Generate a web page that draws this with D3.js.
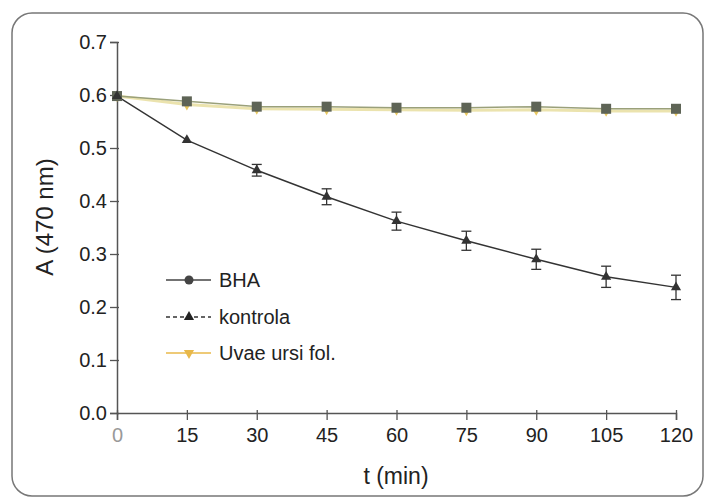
<html>
<head>
  <script src="https://d3js.org/d3.v7.min.js"></script>
</head>
<body style="margin:0;background:#fff;">
<div id="chart"></div>
<script>
// data
var times = [0, 15, 30, 45, 60, 75, 90, 105, 120];
var bha = [0.598, 0.588, 0.578, 0.578, 0.576, 0.576, 0.578, 0.574, 0.574];
var uvae = [0.598, 0.582, 0.574, 0.573, 0.572, 0.571, 0.572, 0.570, 0.570];
var kontrola = [0.598, 0.515, 0.458, 0.408, 0.362, 0.325, 0.290, 0.257, 0.237];
var kontrolaErr = [0, 0.004, 0.011, 0.015, 0.017, 0.018, 0.019, 0.020, 0.023];
var yTicks = [0.0, 0.1, 0.2, 0.3, 0.4, 0.5, 0.6, 0.7];

var W = 709, H = 499;
var svg = d3.select("#chart").append("svg").attr("width", W).attr("height", H);

// rounded frame
svg.append("rect")
  .attr("x", 12).attr("y", 13).attr("width", 691).attr("height", 483)
  .attr("rx", 20).attr("ry", 20)
  .attr("fill", "none").attr("stroke", "#777").attr("stroke-width", 1.5);

var x = d3.scaleLinear().domain([0, 120]).range([117, 676]);
var y = d3.scaleLinear().domain([0, 0.7]).range([413, 42]);

var font = "Liberation Sans, Arial, sans-serif";

// axes
var yAxis = svg.append("g").attr("transform", "translate(117,0)")
  .call(d3.axisLeft(y).tickValues(yTicks).tickFormat(d3.format(".1f")).tickSize(7).tickPadding(3));
var xAxis = svg.append("g").attr("transform", "translate(0,413)")
  .call(d3.axisBottom(x).tickValues(times).tickSize(7).tickPadding(8));
[yAxis, xAxis].forEach(function(a){
  a.select(".domain").attr("stroke", "#555").attr("stroke-width", 1.5);
  a.selectAll(".tick line").attr("stroke", "#555").attr("stroke-width", 1.3);
  a.selectAll("text").attr("font-family", font).attr("font-size", 20).attr("fill", "#222");
});
// y ticks go across the axis a little
yAxis.selectAll(".tick line").attr("x1", 2);
xAxis.selectAll(".tick line").attr("y1", -3);
xAxis.selectAll(".tick text").filter(function(d){ return d === 0; }).attr("fill", "#999");

svg.append("text").attr("x", 396).attr("y", 484).attr("text-anchor", "middle")
  .attr("font-family", font).attr("font-size", 23).attr("fill", "#222").text("t (min)");
svg.append("text").attr("transform", "translate(53,217) rotate(-90)").attr("text-anchor", "middle")
  .attr("font-family", font).attr("font-size", 24).attr("fill", "#222").text("A (470 nm)");

var line = d3.line().x(function(d, i){ return x(times[i]); }).y(function(d){ return y(d); });

// uvae ursi (yellow, behind)
svg.append("path").datum(uvae).attr("d", line)
  .attr("fill", "none").attr("stroke", "#e6dc9a").attr("stroke-width", 3).attr("opacity", 0.8);
svg.append("path").datum(bha).attr("d", line)
  .attr("fill", "none").attr("stroke", "#9aa07a").attr("stroke-width", 1.5);

// kontrola
svg.append("path").datum(kontrola).attr("d", line)
  .attr("fill", "none").attr("stroke", "#333").attr("stroke-width", 1.4);

var eb = svg.append("g").attr("stroke", "#333").attr("stroke-width", 1.3);
kontrola.forEach(function(v, i){
  var e = kontrolaErr[i];
  if (e < 0.006) return;
  var cx = x(times[i]);
  eb.append("line").attr("x1", cx).attr("x2", cx).attr("y1", y(v + e)).attr("y2", y(v - e));
  eb.append("line").attr("x1", cx - 5).attr("x2", cx + 5).attr("y1", y(v + e)).attr("y2", y(v + e));
  eb.append("line").attr("x1", cx - 5).attr("x2", cx + 5).attr("y1", y(v - e)).attr("y2", y(v - e));
});

var tri = d3.symbol().type(d3.symbolTriangle).size(45);
var triDown = d3.symbol().type(d3.symbolTriangle).size(45);

svg.append("g").selectAll("path").data(uvae).enter().append("path")
  .attr("d", triDown)
  .attr("transform", function(d, i){ return "translate(" + x(times[i]) + "," + y(d) + ") rotate(180)"; })
  .attr("fill", "#e8c860");

svg.append("g").selectAll("rect").data(bha).enter().append("rect")
  .attr("x", function(d, i){ return x(times[i]) - 5; })
  .attr("y", function(d){ return y(d) - 5; })
  .attr("width", 10).attr("height", 10)
  .attr("fill", "#5e6456");

svg.append("g").selectAll("path").data(kontrola).enter().append("path")
  .attr("d", tri)
  .attr("transform", function(d, i){ return "translate(" + x(times[i]) + "," + y(d) + ")"; })
  .attr("fill", "#333");

// legend
var leg = [
  {name: "BHA", y: 280, color: "#444", dash: null, mark: "circle"},
  {name: "kontrola", y: 317, color: "#333", dash: "4,3", mark: "tri"},
  {name: "Uvae ursi fol.", y: 353, color: "#e8b84a", dash: null, mark: "triDown"}
];
leg.forEach(function(l){
  svg.append("line").attr("x1", 166).attr("x2", 211).attr("y1", l.y).attr("y2", l.y)
    .attr("stroke", l.color).attr("stroke-width", 1.5).attr("stroke-dasharray", l.dash);
  if (l.mark === "circle") {
    svg.append("circle").attr("cx", 189).attr("cy", l.y).attr("r", 4.5).attr("fill", "#444");
  } else if (l.mark === "tri") {
    svg.append("path").attr("d", tri).attr("transform", "translate(189," + l.y + ")").attr("fill", "#222");
  } else {
    svg.append("path").attr("d", triDown).attr("transform", "translate(189," + l.y + ") rotate(180)").attr("fill", l.color);
  }
  svg.append("text").attr("x", 219).attr("y", l.y + 7).attr("font-family", font)
    .attr("font-size", 20).attr("fill", "#222").text(l.name);
});
</script>
</body>
</html>
